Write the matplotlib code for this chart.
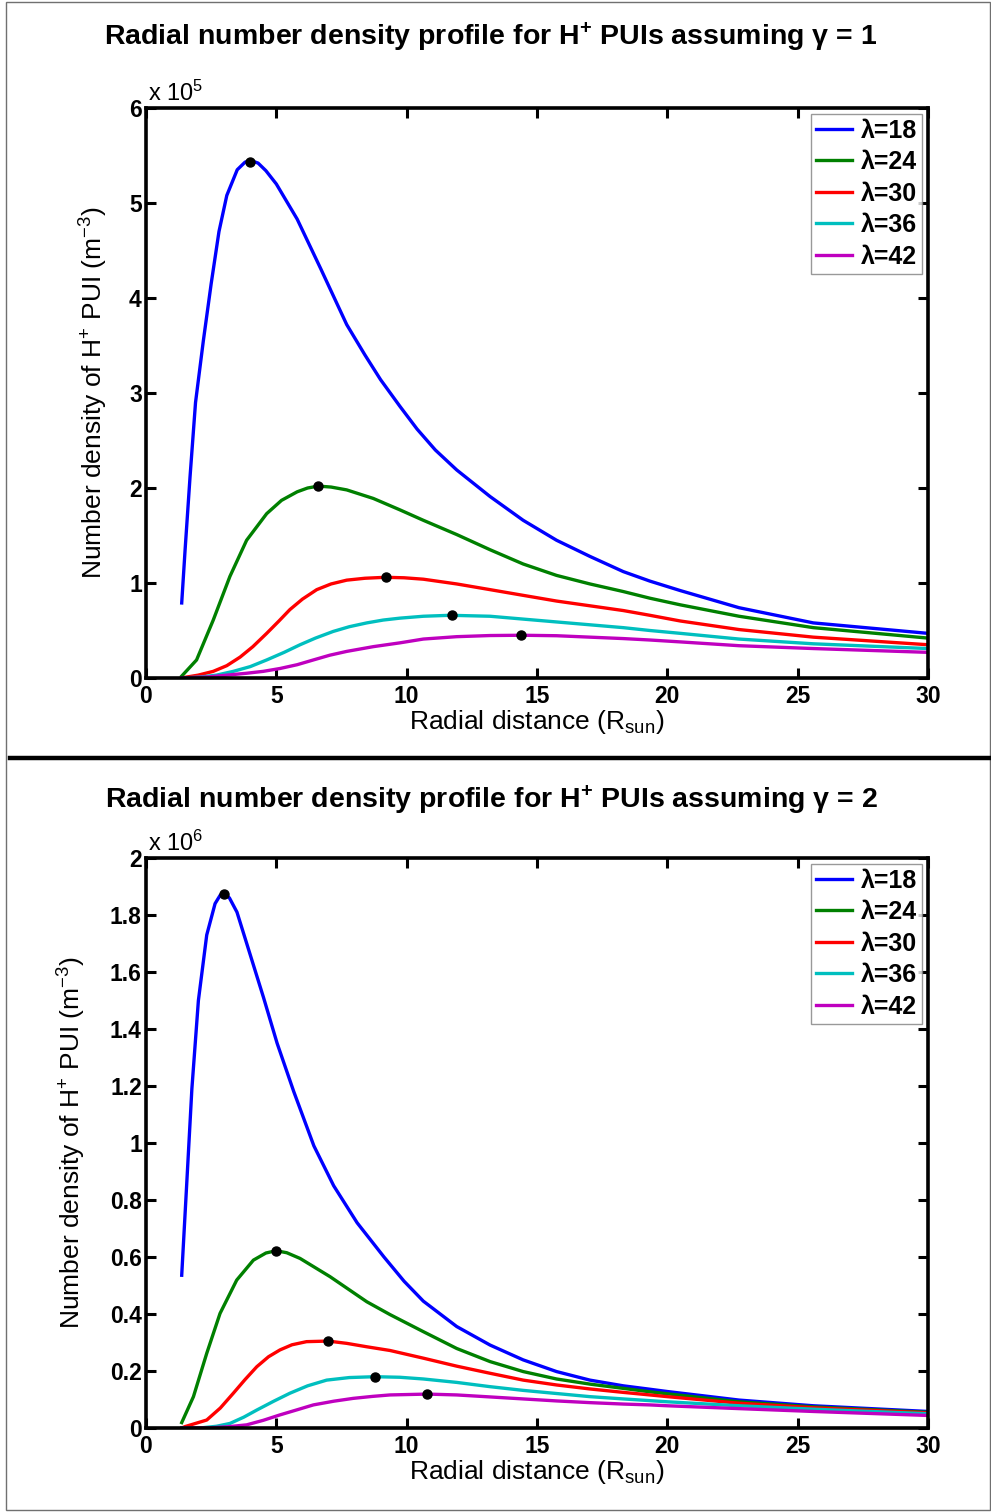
import matplotlib
matplotlib.use("Agg")
import matplotlib.pyplot as plt
from matplotlib.lines import Line2D
from matplotlib.patches import Rectangle

plt.rcParams['font.family'] = ['Liberation Sans', 'DejaVu Sans']
plt.rcParams['mathtext.fontset'] = 'custom'
plt.rcParams['mathtext.rm'] = 'Liberation Sans'
plt.rcParams['mathtext.it'] = 'Liberation Sans:italic'
plt.rcParams['mathtext.bf'] = 'Liberation Sans:bold'

labels = ['λ=18', 'λ=24', 'λ=30', 'λ=36', 'λ=42']
colors = ['#0000ff', '#008000', '#ff0000', '#00bfbf', '#bf00bf']

# ---------------- gamma = 1 (values in units of 1e5 m^-3) ----------------
g1_l18_x = [1.37, 1.5, 1.69, 1.9, 2.2, 2.5, 2.8, 3.1, 3.5, 3.8, 4.0, 4.3, 4.6, 5.0, 5.8, 6.7, 7.7, 8.4, 9.0,
            9.74, 10.4, 11.1, 11.92, 13.2, 14.47, 15.75, 17.03, 18.31, 19.33, 20.5, 22.75, 25.6, 28.0, 30.0]
g1_l18_y = [0.79, 1.35, 2.12, 2.9, 3.55, 4.15, 4.7, 5.08, 5.35, 5.43, 5.45, 5.42, 5.34, 5.2, 4.83, 4.31, 3.72, 3.40, 3.14,
            2.86, 2.62, 2.40, 2.19, 1.91, 1.66, 1.45, 1.28, 1.12, 1.02, 0.92, 0.74, 0.58, 0.52, 0.47]

g1_l24_x = [1.37, 1.94, 2.58, 3.22, 3.86, 4.63, 5.2, 5.8, 6.2, 6.61, 7.1, 7.70, 8.72, 9.74, 10.64, 11.92, 13.2,
            14.47, 15.75, 17.03, 18.31, 19.33, 20.5, 22.75, 25.6, 30.0]
g1_l24_y = [0.02, 0.19, 0.61, 1.07, 1.45, 1.73, 1.87, 1.96, 2.0, 2.02, 2.01, 1.98, 1.89, 1.77, 1.66, 1.51, 1.35,
            1.20, 1.08, 0.99, 0.91, 0.84, 0.77, 0.65, 0.53, 0.42]

g1_l30_x = [1.37, 1.56, 2.0, 2.58, 3.1, 3.61, 4.1, 4.63, 5.1, 5.52, 6.0, 6.55, 7.1, 7.70, 8.4, 9.19, 9.9, 10.64,
            11.92, 13.2, 14.47, 15.75, 17.03, 18.31, 19.33, 20.5, 22.75, 25.6, 30.0]
g1_l30_y = [0.0, 0.01, 0.03, 0.07, 0.13, 0.22, 0.33, 0.47, 0.60, 0.72, 0.83, 0.93, 0.99, 1.03, 1.05, 1.06, 1.055, 1.04,
            0.99, 0.93, 0.87, 0.81, 0.76, 0.71, 0.66, 0.60, 0.51, 0.43, 0.35]

g1_l36_x = [1.37, 2.07, 2.7, 3.35, 4.0, 4.63, 5.3, 5.91, 6.5, 7.18, 7.8, 8.47, 9.1, 9.74, 10.64, 11.67, 13.2,
            14.47, 15.75, 17.03, 18.31, 19.33, 20.5, 22.75, 25.6, 30.0]
g1_l36_y = [0.0, 0.01, 0.03, 0.07, 0.12, 0.19, 0.27, 0.35, 0.42, 0.49, 0.54, 0.58, 0.61, 0.63, 0.65, 0.66, 0.65,
            0.62, 0.59, 0.56, 0.53, 0.50, 0.47, 0.41, 0.36, 0.31]

g1_l42_x = [1.37, 2.33, 3.1, 3.86, 4.5, 5.14, 5.8, 6.42, 7.05, 7.70, 8.72, 9.74, 10.64, 11.92, 13.2, 14.43,
            15.75, 17.03, 18.31, 19.33, 20.5, 22.75, 25.6, 30.0]
g1_l42_y = [0.0, 0.01, 0.03, 0.05, 0.07, 0.10, 0.14, 0.19, 0.24, 0.28, 0.33, 0.37, 0.41, 0.435, 0.447, 0.45,
            0.445, 0.43, 0.415, 0.40, 0.38, 0.34, 0.31, 0.27]

g1_peak_x = [3.99, 6.6, 9.19, 11.75, 14.4]
g1_peak_y = [5.43, 2.02, 1.06, 0.66, 0.45]

# ---------------- gamma = 2 (values in units of 1e6 m^-3) ----------------
g2_l18_x = [1.37, 1.56, 1.76, 2.01, 2.33, 2.65, 2.85, 3.01, 3.2, 3.49, 4.0, 4.51, 5.03, 5.67, 6.44, 7.2, 8.1, 9.13,
            9.9, 10.64, 11.92, 13.2, 14.47, 15.75, 17.03, 18.31, 19.33, 20.0, 22.75, 25.6, 30.0]
g2_l18_y = [0.536, 0.853, 1.19, 1.50, 1.73, 1.84, 1.87, 1.875, 1.86, 1.81, 1.66, 1.51, 1.35, 1.18, 0.99, 0.85, 0.72, 0.60,
            0.515, 0.445, 0.356, 0.291, 0.239, 0.198, 0.168, 0.148, 0.136, 0.128, 0.098, 0.078, 0.058]

g2_l24_x = [1.37, 1.82, 2.33, 2.84, 3.48, 4.12, 4.6, 4.99, 5.4, 5.91, 7.06, 8.47, 9.36, 10.64, 11.92, 13.2,
            14.47, 15.75, 17.03, 18.31, 19.33, 20.0, 22.75, 25.6, 30.0]
g2_l24_y = [0.019, 0.110, 0.262, 0.402, 0.519, 0.589, 0.614, 0.622, 0.615, 0.595, 0.531, 0.443, 0.398, 0.338, 0.279, 0.233,
            0.198, 0.172, 0.154, 0.139, 0.127, 0.120, 0.092, 0.074, 0.055]

g2_l30_x = [1.37, 1.5, 2.33, 2.85, 3.35, 3.8, 4.25, 4.7, 5.14, 5.6, 6.16, 6.99, 7.7, 8.47, 9.36, 10.64, 11.92,
            13.2, 14.47, 15.75, 17.03, 18.31, 19.33, 20.0, 22.75, 25.6, 30.0]
g2_l30_y = [0.0, 0.005, 0.028, 0.07, 0.122, 0.17, 0.215, 0.25, 0.274, 0.292, 0.303, 0.305, 0.297, 0.285, 0.272, 0.245, 0.217,
            0.192, 0.168, 0.151, 0.137, 0.125, 0.116, 0.110, 0.087, 0.071, 0.053]

g2_l36_x = [1.37, 2.07, 2.7, 3.22, 3.75, 4.25, 4.9, 5.52, 6.2, 6.93, 7.8, 8.78, 9.74, 10.64, 11.92, 13.2,
            14.47, 15.75, 17.03, 18.31, 19.33, 20.0, 22.75, 25.6, 30.0]
g2_l36_y = [0.0, 0.0, 0.006, 0.016, 0.038, 0.063, 0.094, 0.122, 0.148, 0.168, 0.177, 0.180, 0.178, 0.172, 0.160, 0.145,
            0.132, 0.121, 0.110, 0.102, 0.096, 0.092, 0.078, 0.066, 0.050]

g2_l42_x = [1.37, 2.33, 3.1, 3.86, 4.5, 5.14, 5.8, 6.42, 7.2, 7.95, 8.7, 9.36, 10.79, 11.92, 13.2, 14.47,
            15.75, 17.03, 18.31, 19.33, 20.0, 22.75, 25.6, 30.0]
g2_l42_y = [0.0, 0.0, 0.004, 0.011, 0.027, 0.046, 0.064, 0.081, 0.094, 0.104, 0.111, 0.116, 0.119, 0.116, 0.109, 0.102,
            0.095, 0.089, 0.084, 0.081, 0.078, 0.068, 0.058, 0.044]

g2_peak_x = [3.0, 5.0, 6.99, 8.78, 10.79]
g2_peak_y = [1.875, 0.622, 0.305, 0.180, 0.119]

x_ticks = [0, 5, 10, 15, 20, 25, 30]
g1_yticks = [0, 1, 2, 3, 4, 5, 6]
g1_yticklabels = ['0', '1', '2', '3', '4', '5', '6']
g2_yticks = [0, 0.2, 0.4, 0.6, 0.8, 1.0, 1.2, 1.4, 1.6, 1.8, 2.0]
g2_yticklabels = ['0', '0.2', '0.4', '0.6', '0.8', '1', '1.2', '1.4', '1.6', '1.8', '2']

W, H = 991, 1512
fig = plt.figure(figsize=(W / 100, H / 100), dpi=100)
fig.patch.set_facecolor('white')


def fx(px):
    return px / W


def fy(py):
    return 1 - py / H


def make_panel(top_px, bottom_px, series, peaks_x, peaks_y, yticks, yticklabels, ymax,
               exponent, title, title_py, ylabel_px):
    ax = fig.add_axes([fx(146), fy(bottom_px), fx(928) - fx(146), fy(top_px) - fy(bottom_px)])
    for (xs, ys), c, lab in zip(series, colors, labels):
        ax.plot(xs, ys, color=c, lw=2.4, label=lab, solid_joinstyle='round')
    ax.plot(peaks_x, peaks_y, 'o', color='black', ms=6.5, zorder=5)
    ax.set_xlim(0, 30)
    ax.set_ylim(0, ymax)
    ax.set_xticks(x_ticks)
    ax.set_xticklabels([str(t) for t in x_ticks])
    ax.set_yticks(yticks)
    ax.set_yticklabels(yticklabels)
    ax.tick_params(direction='in', length=7, width=2.2, top=True, right=True,
                   labelsize=16.5, pad=3)
    for lab in ax.get_xticklabels() + ax.get_yticklabels():
        lab.set_fontweight('bold')
    ax.tick_params(axis='x', pad=5)
    for sp in ax.spines.values():
        sp.set_linewidth(2.6)
    ax.set_xlabel(r'Radial distance (R$_{\mathrm{sun}}$)', fontsize=19, labelpad=0)
    ax.set_ylabel(r'Number density of H$^{+}$ PUI (m$^{-3}$)', fontsize=19)
    ax.yaxis.set_label_coords((ylabel_px - 146) / 782, 0.5)
    ax.text(0.002, 1.004, r'x 10$^{%d}$' % exponent, transform=ax.transAxes,
            fontsize=17, ha='left', va='bottom')
    fig.text(fx(491), fy(title_py), title, ha='center', va='center',
             fontsize=20.5, fontweight='bold')
    leg = ax.legend(loc='upper right', bbox_to_anchor=(0.9925, 0.99), fontsize=18,
                    frameon=True, fancybox=False, handlelength=1.45, handletextpad=0.35,
                    borderpad=0.2, labelspacing=0.3, borderaxespad=0.0)
    leg.get_frame().set_edgecolor('#808080')
    leg.get_frame().set_linewidth(1.0)
    for t in leg.get_texts():
        t.set_fontweight('bold')
    return ax


make_panel(108, 678,
           [(g1_l18_x, g1_l18_y), (g1_l24_x, g1_l24_y), (g1_l30_x, g1_l30_y),
            (g1_l36_x, g1_l36_y), (g1_l42_x, g1_l42_y)],
           g1_peak_x, g1_peak_y, g1_yticks, g1_yticklabels, 6, 5,
           r'Radial number density profile for H$^{\mathbf{+}}$ PUIs assuming γ = 1', 37, 110)

make_panel(858, 1428,
           [(g2_l18_x, g2_l18_y), (g2_l24_x, g2_l24_y), (g2_l30_x, g2_l30_y),
            (g2_l36_x, g2_l36_y), (g2_l42_x, g2_l42_y)],
           g2_peak_x, g2_peak_y, g2_yticks, g2_yticklabels, 2, 6,
           r'Radial number density profile for H$^{\mathbf{+}}$ PUIs assuming γ = 2', 800, 88)

# separator line and outer frame
fig.add_artist(Line2D([fx(10), 1.0], [fy(758), fy(758)], color='black', lw=3.2))
fig.add_artist(Rectangle((fx(6), fy(1510)), fx(990) - fx(6), fy(2) - fy(1510),
                         fill=False, edgecolor='#707070', lw=1.0))

fig.savefig('out.png', dpi=100, facecolor='white')
